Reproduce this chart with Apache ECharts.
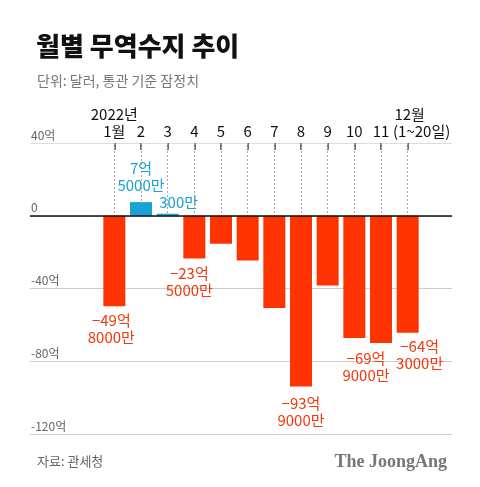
<!DOCTYPE html>
<html><head><meta charset="utf-8">
<script src="https://cdn.jsdelivr.net/npm/echarts@6/dist/echarts.min.js"></script>
<style>html,body{margin:0;padding:0;background:#fff}#c{width:480px;height:487px}</style>
</head><body><div id="c"></div>
<script>
const categories = ['1', '2', '3', '4', '5', '6', '7', '8', '9', '10', '11', '12'];
const monthLabels = ['2022년\n1월', '2', '3', '4', '5', '6', '7', '8', '9', '10', '11', '12월\n(1~20일)'];
const balance = [-49.8, 7.5, 0.03, -23.5, -15.4, -24.6, -50.7, -93.9, -38.3, -67.2, -69.9, -64.3];
const barLabels = ['−49억\n8000만', '7억\n5000만', '300만', '−23억\n5000만', '', '', '', '−93억\n9000만', '', '', '−69억\n9000만', '−64억\n3000만'];
const yTicks = { min: -120, max: 40, interval: 40 };

const FONT = '"Noto Sans CJK KR", "Noto Sans", sans-serif';
const BLUE = '#19a2d5', RED = '#ff3300', LRED = '#f2380c';
const labelTweaks = {
  0: { distance: 5, offset: [-3, 0] },
  1: { distance: 8, offset: [0, 0] },
  2: { distance: 3, offset: [11, 0] },
  3: { distance: 6, offset: [-5, 0] },
  7: { distance: 8, offset: [0, 0] },
  10: { distance: 7, offset: [-15, 0] },
  11: { distance: 5, offset: [12, 0] }
};
const barData = balance.map((v, i) => {
  const pos = v >= 0;
  const item = { value: v, itemStyle: { color: pos ? BLUE : RED } };
  if (barLabels[i]) {
    const t = labelTweaks[i] || {};
    item.label = {
      show: true, position: pos ? 'top' : 'bottom', formatter: barLabels[i],
      distance: t.distance, offset: t.offset,
      color: pos ? BLUE : LRED, fontSize: 15, lineHeight: 17, fontFamily: FONT
    };
  }
  return item;
});
const dashData = categories.map(c => [{ coord: [c, yTicks.max] }, { coord: [c, 0] }]);

const chart = echarts.init(document.getElementById('c'));
chart.setOption({
  animation: false,
  backgroundColor: '#fff',
  title: [
    { text: '월별 무역수지 추이', left: 31, top: 28, textStyle: { fontFamily: FONT, fontSize: 26, fontWeight: 900, color: '#111' } },
    { text: '단위: 달러, 통관 기준 잠정치', left: 32, top: 69, textStyle: { fontFamily: FONT, fontSize: 14, fontWeight: 'normal', color: '#777' } },
    { text: '자료: 관세청', left: 32, top: 450, textStyle: { fontFamily: FONT, fontSize: 13, fontWeight: 'normal', color: '#666' } },
    { text: 'The JoongAng', right: 28, top: 448, textStyle: { fontFamily: '"Liberation Serif", serif', fontSize: 18, fontWeight: 'bold', color: '#777' } }
  ],
  grid: [
    { left: 30, right: 28, top: 143, bottom: 53 },
    { left: 101, right: 59, top: 143, bottom: 53 }
  ],
  xAxis: [
    { gridIndex: 0, type: 'value', min: 0, max: 1, show: false },
    {
      gridIndex: 1, type: 'category', data: categories, position: 'top',
      axisLine: { show: false, onZero: false },
      axisTick: { show: true, interval: 0, alignWithLabel: true, inside: true, length: 7, lineStyle: { color: '#444', width: 1.5 } },
      axisLabel: {
        interval: 0, hideOverlap: false,
        margin: 3, fontFamily: FONT, fontSize: 15, color: '#111', lineHeight: 17,
        formatter: (v, i) => {
          if (i === 11) return '{e|12월}\n{d|(1~20일)}';
          return monthLabels[i];
        },
        rich: {
          e: { padding: [0, 0, 0, 4], fontFamily: FONT, fontSize: 15, color: '#111', lineHeight: 17 },
          d: { padding: [0, 0, 0, 28], fontFamily: FONT, fontSize: 15, color: '#111', lineHeight: 17 }
        }
      },
      splitLine: { show: false }
    }
  ],
  yAxis: [
    {
      gridIndex: 0, type: 'value', min: yTicks.min, max: yTicks.max, interval: yTicks.interval,
      axisLine: { show: false }, axisTick: { show: false },
      axisLabel: {
        inside: true, margin: 1, verticalAlign: 'bottom', padding: [0, 0, 2, 0],
        fontFamily: FONT, fontSize: 12, color: '#666',
        formatter: v => v === 0 ? '0' : v + '억'
      },
      splitLine: { show: true, lineStyle: { color: ['#ccc', '#ccc', '#ccc', '#ccc', '#ddd'], width: [1] } }
    },
    { gridIndex: 1, type: 'value', min: yTicks.min, max: yTicks.max, interval: yTicks.interval, show: false, splitLine: { show: false } }
  ],
  series: [
    {
      type: 'line', xAxisIndex: 0, yAxisIndex: 0, data: [], silent: true, z: 10,
      markLine: {
        silent: true, symbol: 'none', z: 10, label: { show: false },
        lineStyle: { color: '#111', width: 1.5, type: 'solid' },
        data: [{ yAxis: 0 }]
      }
    },
    {
      type: 'bar', xAxisIndex: 1, yAxisIndex: 1, data: barData, barWidth: 22, barMinHeight: 2, z: 3,
      markLine: {
        silent: true, symbol: 'none', z: 1, label: { show: false },
        lineStyle: { color: '#aaa', width: 1, type: [2, 2] },
        data: dashData
      }
    }
  ]
});
</script>
</body></html>
